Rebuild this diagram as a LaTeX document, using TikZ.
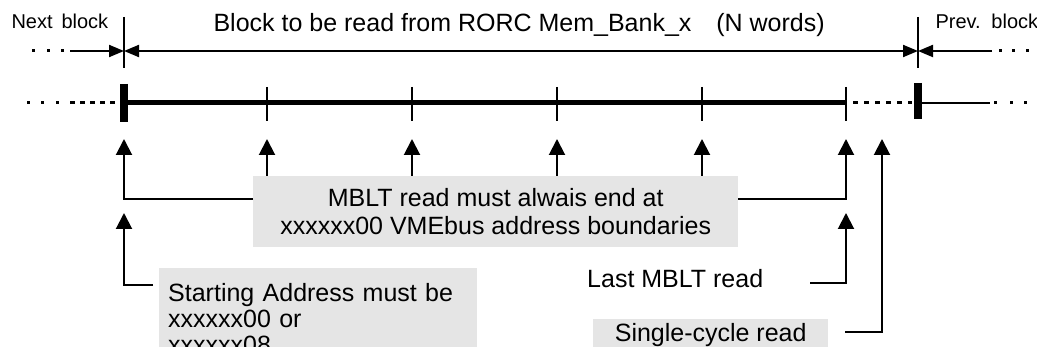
\documentclass[tikz,border=0pt]{standalone}
\usepackage{fontspec}
\setmainfont{Liberation Sans}
\usetikzlibrary{arrows.meta}
\definecolor{notegray}{RGB}{229,229,229}

\begin{document}
\begin{tikzpicture}[x=1pt,y=-1pt,
  thinline/.style={line width=2pt},
  dimarrow/.style={line width=2pt,-{Triangle[length=15pt,width=12pt]}},
  dimboth/.style={line width=2pt,{Triangle[length=15pt,width=12pt]}-{Triangle[length=15pt,width=12pt]}},
  uparrow/.style={line width=2pt,-{Triangle[length=16pt,width=16pt]}},
  bigtext/.style={font=\fontsize{25}{28}\selectfont},
  smalltext/.style={font=\fontsize{20}{24}\selectfont},
  note/.style={fill=notegray,inner sep=0pt,bigtext},
  dot/.style={fill=black,minimum size=3pt,inner sep=0pt},
  bar/.style={line width=8pt},
  tick/.style={line width=2pt}]
\clip (0,0) rectangle (1037,347);

% ---------- block extent (top row) ----------
\node[bigtext,anchor=base west] (title) at (210,32)
  {Block to be read from RORC Mem\_Bank\_x\hspace{18pt} (N words)};
\node[smalltext,anchor=base west] (next) at (8,29) {Next\, block};
\node[smalltext,anchor=base west] (prev) at (932,29) {Prev.\, block};

\coordinate (lb) at (124,51);
\coordinate (rb) at (918,51);
\draw[tick] (124,17) -- (124,68);
\draw[tick] (918,17) -- (918,68);
\coordinate (lin) at (70,51);
\coordinate (rin) at (992,51);
\draw[dimarrow] (lin) -- (lb);
\draw[dimarrow] (rin) -- (rb);
\draw[dimboth] (lb) -- (rb);
\foreach \x [count=\i] in {33,48,62} \node[dot] (tl\i) at (\x,51) {};
\foreach \x [count=\i] in {1000,1013,1027} \node[dot] (tr\i) at (\x,51) {};

% ---------- memory line ----------
\foreach \x [count=\i] in {28,42,57} \node[dot] (ml\i) at (\x,103) {};
\draw[line width=3pt,dash pattern=on 5pt off 5pt] (70,103) -- (120,103);
\draw[line width=5pt] (124,103) -- (846,103);
\draw[bar] (124,84) -- (124,122);
\foreach \x in {267,412,557,702,846} \draw[tick] (\x,87) -- (\x,121);
\draw[line width=3pt,dash pattern=on 5pt off 6pt] (853,103) -- (912,103);
\draw[bar] (918,83) -- (918,119);
\draw[thinline] (922,103) -- (990,103);
\foreach \x [count=\i] in {995,1011,1025} \node[dot] (mr\i) at (\x,103) {};

% ---------- arrow tips under the line ----------
\foreach \x [count=\i from 0] in {124,267,412,557,702,846} \coordinate (a\i) at (\x,139);
\coordinate (a6) at (882,139);
\coordinate (b0) at (124,213);
\coordinate (b5) at (846,213);

% ---------- notes ----------
\node[note,anchor=north west,minimum width=485pt,minimum height=71pt,
      align=center] (mblt) at (253,176)
  {MBLT read must alwais end at\\xxxxxx00 VMEbus address boundaries};

\node[note,anchor=north west,text width=300pt,align=left,
      font=\fontsize{25}{26}\selectfont,
      inner xsep=9pt,inner ysep=7pt,minimum height=100pt] (start) at (159,268)
  {Starting Address must be\\xxxxxx00 or\\xxxxxx08};

\node[bigtext,anchor=base west,inner sep=0pt] (last) at (587,288) {Last MBLT read};

\node[note,anchor=north west,minimum width=235pt,text depth=14pt,
      inner ysep=4.5pt] (single) at (593,319) {Single-cycle read};

\coordinate (sa) at (153,285);
\coordinate (la) at (810,283);
\coordinate (sc) at (845,332);

% ---------- connectors ----------
\draw[uparrow] ([yshift=-23pt]mblt.north west) -| (a0);
\draw[uparrow] ([yshift=-23pt]mblt.north east) -| (a5);
\foreach \i in {1,2,3,4} \draw[uparrow] (mblt.north -| a\i) -- (a\i);
\draw[uparrow] (sa) -| (b0);
\draw[uparrow] (la) -| (b5);
\draw[uparrow] (sc) -| (a6);
\end{tikzpicture}
\end{document}
